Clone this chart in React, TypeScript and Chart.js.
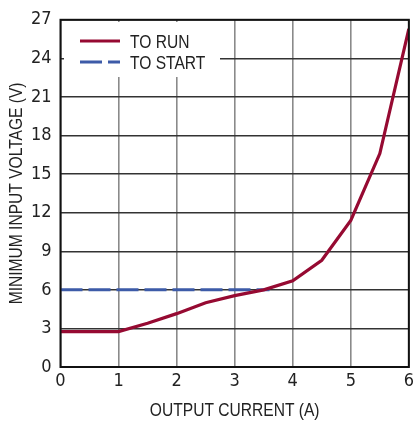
import React, { useEffect, useRef } from "react";
import { Chart, registerables } from "chart.js";

Chart.register(...registerables);

const runX = [0, 1, 1.5, 2, 2.5, 3, 3.5, 4, 4.5, 5, 5.5, 6];
const runY = [2.75, 2.75, 3.4, 4.15, 5.0, 5.55, 6.0, 6.7, 8.3, 11.4, 16.6, 26.3];
const startX = [0, 3.6];
const startY = [6, 6];
const seriesNames = ["TO RUN", "TO START"];
const xTitle = "OUTPUT CURRENT (A)";
const yTitle = "MINIMUM INPUT VOLTAGE (V)";

const TICK_FONT = '"DejaVu Sans Condensed", "Liberation Sans Narrow", sans-serif';
const TEXT_FONT = '"Liberation Sans", Arial, sans-serif';
const SQUEEZE = 0.82;
const RED = "#960a32";
const BLUE = "#3d5ba8";
const INK = "#222";

function narrowText(ctx: CanvasRenderingContext2D, text: string, x: number, y: number, align: "left" | "center") {
  ctx.save();
  ctx.translate(x, y);
  ctx.scale(SQUEEZE, 1);
  ctx.textAlign = align;
  ctx.textBaseline = "alphabetic";
  ctx.fillText(text, 0, 0);
  ctx.restore();
}

export default function App() {
  const ref = useRef<HTMLCanvasElement>(null);
  useEffect(() => {
    if (!ref.current) return;
    const overlay = {
      id: "overlay",
      beforeDatasetsDraw(chart: any) {
        const ctx = chart.ctx;
        ctx.save();
        ctx.fillStyle = "#fff";
        ctx.fillRect(64, 22, 156, 55);
        ctx.lineWidth = 3;
        ctx.strokeStyle = RED;
        ctx.beginPath();
        ctx.moveTo(80, 41);
        ctx.lineTo(120, 41);
        ctx.stroke();
        ctx.strokeStyle = BLUE;
        ctx.setLineDash([22, 6]);
        ctx.beginPath();
        ctx.moveTo(80, 62);
        ctx.lineTo(120, 62);
        ctx.stroke();
        ctx.setLineDash([]);
        ctx.fillStyle = INK;
        ctx.font = `19px ${TEXT_FONT}`;
        narrowText(ctx, seriesNames[0], 130, 48, "left");
        narrowText(ctx, seriesNames[1], 130, 69, "left");
        ctx.restore();
      },
      afterDatasetsDraw(chart: any) {
        const ctx = chart.ctx;
        const a = chart.chartArea;
        ctx.save();
        ctx.strokeStyle = "#111";
        ctx.lineWidth = 2;
        ctx.strokeRect(a.left, a.top, a.right - a.left, a.bottom - a.top);
        ctx.fillStyle = INK;
        ctx.font = `19px ${TEXT_FONT}`;
        narrowText(ctx, xTitle, (a.left + a.right) / 2, 416, "center");
        ctx.translate(22, (a.top + a.bottom) / 2);
        ctx.rotate(-Math.PI / 2);
        narrowText(ctx, yTitle, 0, 0, "center");
        ctx.restore();
      },
    };
    const chart = new Chart(ref.current, {
      type: "line",
      data: {
        datasets: [
          {
            label: seriesNames[1],
            data: startX.map((x, i) => ({ x, y: startY[i] })),
            borderColor: BLUE,
            borderWidth: 3,
            borderDash: [22, 6],
            pointRadius: 0,
            order: 2,
          },
          {
            label: seriesNames[0],
            data: runX.map((x, i) => ({ x, y: runY[i] })),
            borderColor: RED,
            borderWidth: 3.2,
            pointRadius: 0,
            order: 1,
          },
        ],
      },
      plugins: [overlay],
      options: {
        responsive: false,
        animation: false,
        layout: { padding: { top: 15, right: 6, left: 0, bottom: 0 } },
        plugins: { legend: { display: false }, tooltip: { enabled: false } },
        scales: {
          x: {
            type: "linear",
            min: 0,
            max: 6,
            afterFit: (s: any) => { s.height = 56; },
            ticks: { stepSize: 1, color: INK, font: { family: TICK_FONT, size: 18 }, padding: 4 },
            grid: { color: "#8a8a8a", lineWidth: 1.6, tickLength: 0, drawTicks: false },
            border: { display: false },
          },
          y: {
            min: 0,
            max: 27,
            afterFit: (s: any) => { s.width = 60.5; },
            ticks: { stepSize: 3, color: INK, font: { family: TICK_FONT, size: 18 }, padding: 9 },
            grid: { color: "#333", lineWidth: 1.5, tickLength: 0, drawTicks: false },
            border: { display: false },
          },
        },
      },
    });
    return () => chart.destroy();
  }, []);
  return (
    <div style={{ position: "fixed", left: 0, top: 0, width: 418, height: 423, background: "#fff" }}>
      <canvas ref={ref} width={418} height={423} />
    </div>
  );
}
